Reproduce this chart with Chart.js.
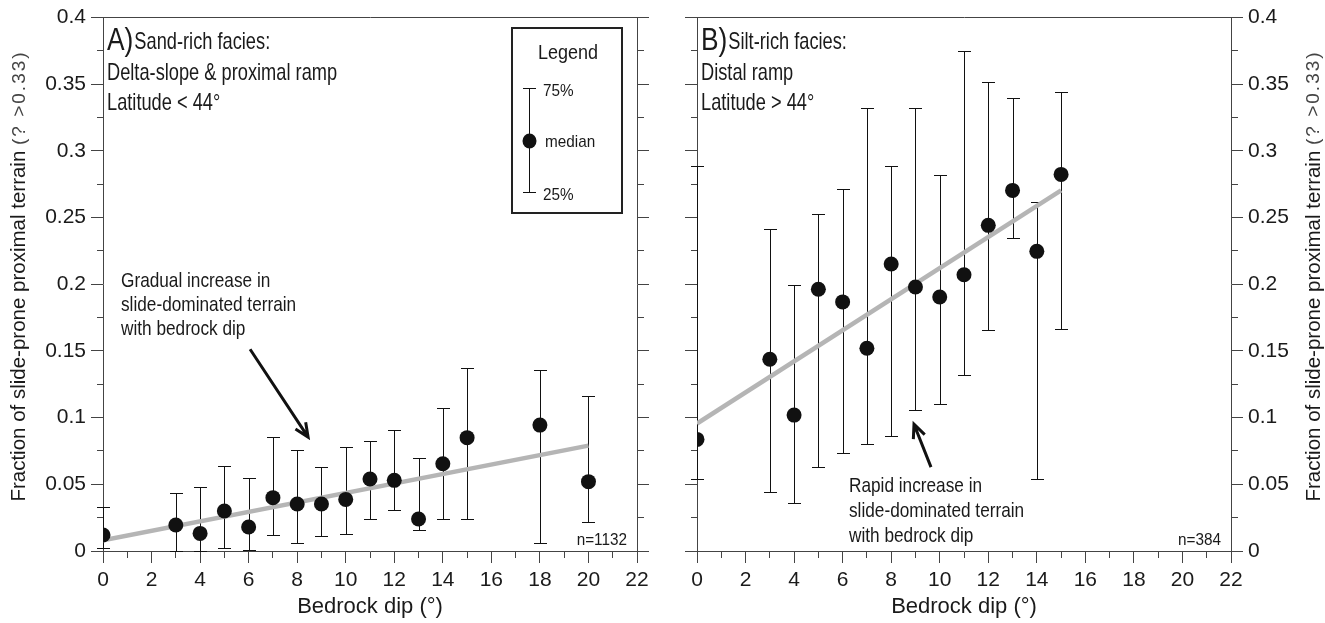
<!DOCTYPE html>
<html><head><meta charset="utf-8">
<script src="https://cdn.jsdelivr.net/npm/chart.js@4.4.0/dist/chart.umd.min.js"></script>
<style>
html,body{margin:0;padding:0;background:#fff;width:1325px;height:623px;overflow:hidden}
#ca{position:absolute;left:0;top:0}
#cb{position:absolute;left:660px;top:0}
</style></head><body>
<canvas id="ca" width="660" height="623"></canvas>
<canvas id="cb" width="665" height="623"></canvas>
<script>
// ---- data ----
const dipA    = [0, 3, 4, 5, 6, 7, 8, 9, 10, 11, 12, 13, 14, 15, 18, 20];
const medianA = [0.012, 0.0195, 0.0132, 0.030, 0.018, 0.040, 0.0352, 0.0352, 0.0387, 0.054, 0.053, 0.024, 0.0654, 0.085, 0.0944, 0.052];
const q25A    = [0.002, 0.0, 0.0, 0.0025, 0.001, 0.0117, 0.006, 0.011, 0.013, 0.024, 0.031, 0.0157, 0.024, 0.024, 0.006, 0.0215];
const q75A    = [0.0327, 0.0432, 0.048, 0.064, 0.055, 0.0856, 0.0759, 0.063, 0.078, 0.0826, 0.091, 0.070, 0.107, 0.137, 0.136, 0.116];
const trendXA = [0, 20];
const trendYA = [0.008, 0.079];

const dipB    = [0, 3, 4, 5, 6, 7, 8, 9, 10, 11, 12, 13, 14, 15];
const medianB = [0.0837, 0.1438, 0.1019, 0.1963, 0.1868, 0.152, 0.2152, 0.198, 0.1905, 0.2072, 0.2442, 0.2704, 0.2247, 0.2824];
const q25B    = [0.0539, 0.0442, 0.036, 0.0627, 0.0734, 0.0806, 0.0866, 0.1056, 0.1106, 0.1323, 0.1655, 0.235, 0.0537, 0.1665];
const q75B    = [0.2886, 0.2412, 0.1993, 0.253, 0.2716, 0.332, 0.2884, 0.332, 0.2822, 0.3748, 0.3518, 0.340, 0.262, 0.3445];
const trendXB = [0, 15];
const trendYB = [0.0956, 0.2704];

const xTickLabels = ['0','2','4','6','8','10','12','14','16','18','20','22'];
const yTickLabels = ['0','0.05','0.1','0.15','0.2','0.25','0.3','0.35','0.4'];
const xTitle = 'Bedrock dip (°)';
const yTitleMain = 'Fraction of slide-prone proximal terrain ';
const yTitleTail = '(? >0.33)';

// ---- styling ----
const FONT = "'Liberation Sans', Arial, Helvetica, sans-serif";
const AXC = '#444';
const TXT = '#1a1a1a';

function xLabel(v){ const r=Math.round(v); return (r%2===0) ? xTickLabels[r/2] : ''; }
function yLabel(v){ const k=Math.round(v/0.025); return (k%2===0) ? yTickLabels[k/2] : ''; }
function isMinorX(ctx){ return Math.round(ctx.tick.value)%2!==0; }
function isMinorY(ctx){ return Math.round(ctx.tick.value/0.025)%2!==0; }

function makeErrorBars(dip, lo, hi){
  return {
    id:'errbars',
    beforeDatasetsDraw(chart){
      const {ctx, scales:{x,y}} = chart;
      ctx.save();
      ctx.strokeStyle='#111'; ctx.lineWidth=1;
      dip.forEach((d,i)=>{
        const px=Math.round(x.getPixelForValue(d))+0.5;
        const pl=Math.round(y.getPixelForValue(lo[i]))+0.5;
        const ph=Math.round(y.getPixelForValue(hi[i]))+0.5;
        ctx.beginPath();
        ctx.moveTo(px,pl); ctx.lineTo(px,ph);
        ctx.moveTo(px-6.5,pl); ctx.lineTo(px+6.5,pl);
        ctx.moveTo(px-6.5,ph); ctx.lineTo(px+6.5,ph);
        ctx.stroke();
      });
      ctx.restore();
    }
  };
}

function arrow(ctx,x1,y1,x2,y2){
  const a=Math.atan2(y2-y1,x2-x1), L=15, s=0.42;
  ctx.beginPath();
  ctx.moveTo(x1,y1); ctx.lineTo(x2,y2);
  ctx.moveTo(x2-L*Math.cos(a-s), y2-L*Math.sin(a-s));
  ctx.lineTo(x2,y2);
  ctx.lineTo(x2-L*Math.cos(a+s), y2-L*Math.sin(a+s));
  ctx.stroke();
}

// condensed text: regular font squeezed horizontally
function narrow(ctx, text, x, y, size, sx, align){
  ctx.save();
  ctx.font = size+'px '+FONT;
  ctx.textAlign='left';
  const w = ctx.measureText(text).width*sx;
  const x0 = align==='right' ? x-w : x;
  ctx.translate(x0,y); ctx.scale(sx,1);
  ctx.fillText(text,0,0);
  ctx.restore();
  return w;
}

function makeText(cfg){
  return {
    id:'texts',
    afterDraw(chart){
      const {ctx, scales:{x,y}, chartArea:ca} = chart;
      ctx.save();
      ctx.fillStyle=TXT;
      ctx.textBaseline='alphabetic';
      // heading
      const w = narrow(ctx, cfg.letter, cfg.hx, 50, 31, 0.85);
      narrow(ctx, cfg.h1, cfg.hx+w+1, 49, 24, 0.76);
      narrow(ctx, cfg.h2, cfg.hx, 80, 24, 0.76);
      narrow(ctx, cfg.h3, cfg.hx, 110, 24, 0.76);
      // annotation
      cfg.ann.forEach((t,i)=>narrow(ctx, t, cfg.ax, cfg.ay+i*cfg.adY, 21, 0.82));
      // n=
      narrow(ctx, cfg.n, ca.right-10, 545, 17, 0.9, 'right');
      // arrow in data coordinates
      ctx.strokeStyle='#111'; ctx.lineWidth=3; ctx.lineCap='butt'; ctx.lineJoin='miter';
      arrow(ctx, x.getPixelForValue(cfg.arr[0]), y.getPixelForValue(cfg.arr[1]),
                 x.getPixelForValue(cfg.arr[2]), y.getPixelForValue(cfg.arr[3]));
      // y title (reads bottom-to-top)
      ctx.translate(cfg.tx, 276); ctx.rotate(-Math.PI/2);
      ctx.textBaseline='middle'; ctx.textAlign='left';
      ctx.font='20.5px '+FONT;
      const wm = ctx.measureText(yTitleMain).width;
      ctx.font='19px '+FONT; ctx.letterSpacing='2px';
      const wt = ctx.measureText(yTitleTail).width;
      const start = -(wm+wt)/2;
      ctx.font='20.5px '+FONT; ctx.letterSpacing='0px';
      ctx.fillText(yTitleMain, start, 0);
      ctx.font='19px '+FONT; ctx.letterSpacing='2px'; ctx.fillStyle='#444';
      ctx.fillText(yTitleTail, start+wm, 0);
      ctx.letterSpacing='0px';
      ctx.restore();
      if(cfg.legend){
        ctx.save();
        ctx.strokeStyle='#222'; ctx.lineWidth=2;
        ctx.strokeRect(512,28,110,185);
        ctx.fillStyle=TXT; ctx.textBaseline='alphabetic';
        ctx.font='20px '+FONT;
        const lw = ctx.measureText('Legend').width*0.9;
        narrow(ctx,'Legend',568-lw/2,59,20,0.9);
        ctx.strokeStyle='#111'; ctx.lineWidth=1;
        ctx.beginPath();
        ctx.moveTo(529.5,88.5); ctx.lineTo(529.5,192.5);
        ctx.moveTo(523,88.5); ctx.lineTo(536,88.5);
        ctx.moveTo(523,192.5); ctx.lineTo(536,192.5);
        ctx.stroke();
        ctx.fillStyle='#111';
        ctx.beginPath(); ctx.ellipse(529.5,141,7,7.5,0,0,Math.PI*2); ctx.fill();
        ctx.fillStyle=TXT; ctx.textBaseline='middle';
        narrow(ctx,'75%',543,91,17,0.9);
        narrow(ctx,'median',545,142,17,0.9);
        narrow(ctx,'25%',543,195,17,0.9);
        ctx.restore();
      }
    }
  };
}

function makeChart(id, dip, med, lo, hi, tx, ty, leftW, rightW, labelsLeft, textCfg){
  const gridBase = {drawOnChartArea:false, color:AXC, tickColor:AXC, tickLength:12, tickWidth:1};
  return new Chart(document.getElementById(id), {
    type:'scatter',
    data:{datasets:[
      {type:'scatter', data:dip.map((d,i)=>({x:d,y:med[i]})), backgroundColor:'#111', borderWidth:0, pointRadius:7.5, pointHoverRadius:7.5, order:1},
      {type:'line', data:tx.map((d,i)=>({x:d,y:ty[i]})), borderColor:'#b5b5b5', borderWidth:4.5, pointRadius:0, showLine:true, fill:false, order:2}
    ]},
    options:{
      responsive:false, animation:false, devicePixelRatio:1,
      layout:{padding:0},
      plugins:{legend:{display:false}, tooltip:{enabled:false}},
      scales:{
        x:{type:'linear', position:'bottom', min:0, max:22,
           afterFit(s){ s.height=72; },
           ticks:{stepSize:1, autoSkip:false, maxRotation:0, padding:5, color:TXT, font:{family:FONT,size:21}, callback:xLabel},
           grid:{...gridBase, tickBorderDash:(c)=>isMinorX(c)?[6,100]:[]},
           border:{display:true, color:AXC, width:1},
           title:{display:true, text:xTitle, color:TXT, font:{family:FONT,size:22}, padding:{top:0,bottom:3}}},
        xt:{type:'linear', position:'top', min:0, max:22,
           afterFit(s){ s.height=17; },
           ticks:{display:false},
           grid:{drawOnChartArea:false, drawTicks:false},
           border:{display:true, color:AXC, width:1}},
        y:{type:'linear', position:'left', min:0, max:0.4,
           afterFit(s){ s.width=leftW; },
           ticks:{stepSize:0.025, autoSkip:false, padding:5, color:TXT, font:{family:FONT,size:21}, callback:(v)=>labelsLeft?yLabel(v):''},
           grid:{...gridBase, tickBorderDash:(c)=>isMinorY(c)?[0,6,6,100]:[]},
           border:{display:true, color:AXC, width:1}},
        yr:{type:'linear', position:'right', min:0, max:0.4,
           afterFit(s){ s.width=rightW; },
           ticks:{stepSize:0.025, autoSkip:false, padding:5, color:TXT, font:{family:FONT,size:21}, callback:(v)=>labelsLeft?'':yLabel(v)},
           grid:{...gridBase, tickBorderDash:(c)=>isMinorY(c)?[6,100]:[]},
           border:{display:true, color:AXC, width:1}}
      }
    },
    plugins:[makeErrorBars(dip, lo, hi), makeText(textCfg)]
  });
}

makeChart('ca', dipA, medianA, q25A, q75A, trendXA, trendYA, 103, 23, true, {
  letter:'A)', h1:'Sand-rich facies:', h2:'Delta-slope & proximal ramp', h3:'Latitude < 44°', hx:107,
  ann:['Gradual increase in','slide-dominated terrain','with bedrock dip'], ax:121, ay:287, adY:24,
  n:'n=1132', arr:[6.06,0.1513,8.45,0.0854], tx:19.5, legend:true
});
makeChart('cb', dipB, medianB, q25B, q75B, trendXB, trendYB, 37, 94, false, {
  letter:'B)', h1:'Silt-rich facies:', h2:'Distal ramp', h3:'Latitude > 44°', hx:41,
  ann:['Rapid increase in','slide-dominated terrain','with bedrock dip'], ax:189, ay:492, adY:25,
  n:'n=384', arr:[9.64,0.0629,8.94,0.0951], tx:654, legend:false
});
</script>
</body></html>
